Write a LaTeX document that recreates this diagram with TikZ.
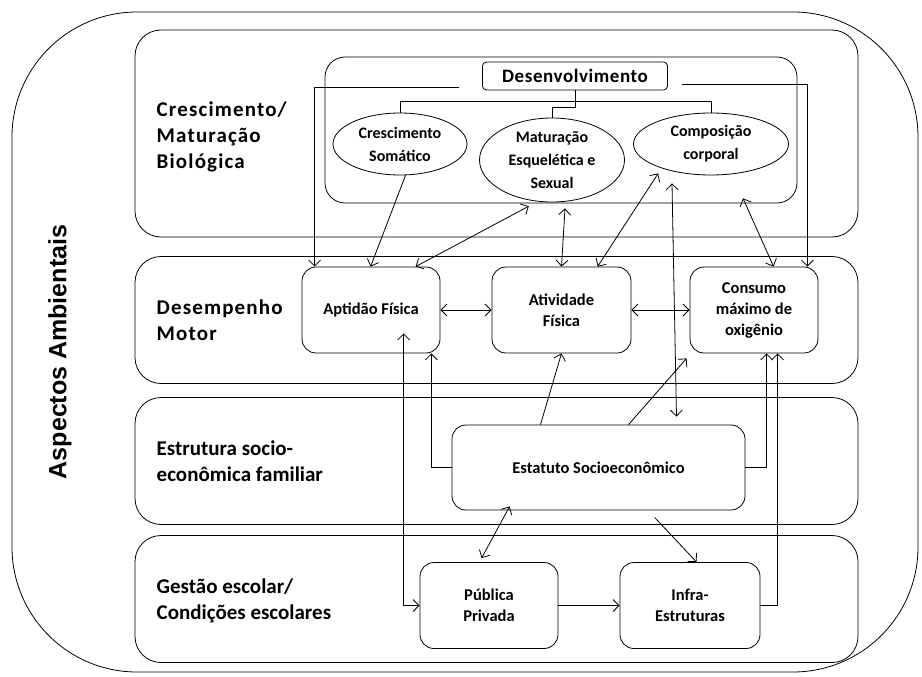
\documentclass[tikz,border=0pt]{standalone}
\usepackage{fontspec}
\setmainfont{Carlito}
\newfontfamily\largo[LetterSpace=5.5]{Carlito}
\newfontfamily\desfont[LetterSpace=3]{Carlito}
\newfontfamily\arialb{Liberation Sans}
\usetikzlibrary{arrows.meta,shapes.geometric}
\tikzset{
  band/.style={draw,rounded corners=26pt,minimum width=723pt},
  caixa/.style={draw,rounded corners=14pt,minimum width=138pt,minimum height=86pt,align=center,font=\fontsize{16.5}{21}\selectfont\bfseries},
  elipse/.style={draw,ellipse,inner xsep=0pt,inner ysep=-10pt,align=center,font=\fontsize{16}{23}\selectfont\bfseries},
  rotulo/.style={anchor=west,align=left,font=\fontsize{21}{26}\selectfont\bfseries}
}
\begin{document}
\begin{tikzpicture}[x=1pt,y=-1pt,line width=0.8pt,>={Straight Barb[length=6pt,width=12pt]}]
  \useasboundingbox (0,0) rectangle (922,677);
  \draw[rounded corners=125pt] (12,12) rectangle (918,672);
  \node[band,minimum height=207pt] (bandCresc) at (496.5,133.5) {};
  \node[band,minimum height=127pt] (bandDesemp) at (496.5,320) {};
  \node[band,minimum height=127pt] (bandEstrut) at (496.5,461) {};
  \node[band,minimum height=127pt] (bandGestao) at (496.5,599) {};
  \node[rotate=90,font=\arialb\fontsize{25}{28}\selectfont\bfseries] (aspectos) at (60,352) {Aspectos Ambientais};
  \node[rotulo,font=\largo\fontsize{21}{26}\selectfont\bfseries] (tCresc) at (153,137) {Crescimento/\\Maturação\\Biológica};
  \node[rotulo,font=\largo\fontsize{21}{26}\selectfont\bfseries] (tDesemp) at (153,320) {Desempenho\\Motor};
  \node[rotulo] (tEstrut) at (153,461) {Estrutura socio-\\econômica familiar};
  \node[rotulo] (tGestao) at (153,601) {Gestão escolar/\\Condições escolares};
  \draw[rounded corners=20pt] (325,57) rectangle (797,203);
  \node[draw,rounded corners=4pt,minimum width=185pt,minimum height=28pt,inner sep=0pt,font=\desfont\fontsize{19}{22}\selectfont\bfseries] (desenv) at (575,76) {Desenvolvimento};
  \node[elipse,minimum width=134pt,minimum height=62pt] (cresc) at (400,144) {Crescimento\\Somático};
  \node[elipse,minimum width=145pt,minimum height=84pt] (matur) at (552,160) {Maturação\\Esquelética e\\Sexual};
  \node[elipse,minimum width=155pt,minimum height=62pt] (compos) at (711,144) {Composição\\corporal};
  \node[caixa] (aptidao) at (371,310) {Aptidão Física};
  \node[caixa,minimum width=139pt] (ativ) at (561.5,310) {Atividade\\Física};
  \node[caixa,minimum width=128pt] (consumo) at (754,310) {Consumo\\máximo de\\oxigênio};
  \node[caixa,minimum width=293pt,minimum height=85pt] (estatuto) at (598.5,467.5) {Estatuto Socioeconômico};
  \node[caixa] (publica) at (489,605.5) {Pública\\Privada};
  \node[caixa,minimum width=140pt] (infra) at (690,605.5) {Infra-\\Estruturas};
  \draw (desenv.south) -- ++(0,17) -| (matur.north);
  \draw (cresc.north) -- ++(0,-11) -| (compos.north);
  \draw[->] ([xshift=-23pt,yshift=3pt]desenv.south west) -| ([xshift=13pt]aptidao.north west);
  \draw[->] ([xshift=14pt,yshift=6pt]desenv.south east) -| ([xshift=-11pt]consumo.north east);
  \draw[->] (cresc.-80) -- ([xshift=69pt]aptidao.north west);
  \draw[<->] ([xshift=114pt]aptidao.north west) -- ([yshift=-6pt]matur.-120);
  \draw[<->] ([xshift=13pt,yshift=-6pt]matur.south) -- (ativ.north);
  \draw[<->] ([xshift=106pt]ativ.north west) -- ([shift={(-7pt,-4pt)}]compos.-151);
  \draw[<->] ([xshift=32pt,yshift=-23pt]compos.south) -- ([xshift=84pt]consumo.north west);
  \draw[<->] ([xshift=-39pt,yshift=-8pt]compos.south) -- ([xshift=78pt,yshift=8pt]estatuto.north);
  \draw[<->] (aptidao.east) -- (ativ.west);
  \draw[<->] (ativ.east) -- (consumo.west);
  \draw[->] ([xshift=-58pt]estatuto.north) -- (ativ.south);
  \draw[->] ([xshift=30pt]estatuto.north) -- ([shift={(-3pt,-5pt)}]consumo.south west);
  \draw[->] (estatuto.west) -| ([xshift=-9pt]aptidao.south east);
  \draw[<->] ([xshift=102pt,yshift=20pt]aptidao.south west) |- (publica.west);
  \draw[->] (estatuto.east) -| ([xshift=77pt]consumo.south west);
  \draw[->] (infra.east) -| ([xshift=88pt]consumo.south west);
  \draw[<->] ([xshift=58pt,yshift=4pt]estatuto.south west) -- ([xshift=62pt,yshift=4pt]publica.north west);
  \draw[->] ([xshift=203pt,yshift=-7pt]estatuto.south west) -- ([xshift=77pt]infra.north west);
  \draw[->] (publica.east) -- (infra.west);
\end{tikzpicture}
\end{document}
